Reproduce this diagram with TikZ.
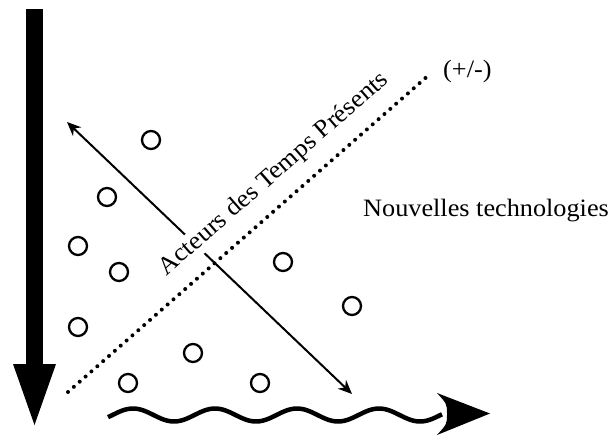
\documentclass[tikz,border=0pt]{standalone}
\usepackage{fontspec}
\setmainfont{Liberation Serif}
\usetikzlibrary{arrows.meta}
\begin{document}
\begin{tikzpicture}[x=1pt,y=-1pt,
  circ/.style={draw,line width=2.3pt,circle,minimum size=18pt,inner sep=0pt},
  lbl/.style={font=\fontsize{25}{29}\selectfont,inner sep=1pt},
  dots/.style={line width=4pt,line cap=round,dash pattern=on 0pt off 7.8pt},
  thin arrow/.style={line width=2pt,{Stealth[length=14pt,width=12pt]}-{Stealth[length=14pt,width=12pt]}}]
\useasboundingbox (0,0) rectangle (615,435);
% left big arrow
\fill (26,9) rectangle (43,365);
\fill (13,364) -- (56,364) -- (34.5,425) -- cycle;
% wavy arrow
\draw[line width=4.5pt] plot[domain=108:442,samples=120] (\x,{415-6.5*cos((\x-133)*4.39)});
\fill (437,393) -- (490,413.5) -- (437,435) .. controls (447,424) .. (447,414) .. controls (447,404) .. (437,393) -- cycle;
% dotted line
\coordinate (d1) at (68,392);
\coordinate (d2) at (430,74);
\draw[dots] (d1) -- (d2);
% double arrow
\coordinate (a1) at (67,122);
\coordinate (a2) at (352,394);
\draw[thin arrow] (a1) -- (a2);
% rotated label
\node[lbl,fill=white,rotate=41.2,anchor=base,inner sep=2pt] (act) at (278,179) {\scalebox{1.06}[1]{Acteurs des Temps Présents}};
% texts
\node[lbl,anchor=base west] (pm) at (442,78) {\scalebox{1.05}[1]{(+/-)}};
\node[lbl,anchor=base west] (nt) at (362,217) {\scalebox{1.05}[1]{Nouvelles technologies}};
% circles
\node[circ] (c1) at (151,140) {};
\node[circ] (c2) at (107,197) {};
\node[circ] (c3) at (78,246) {};
\node[circ] (c4) at (119,272) {};
\node[circ] (c5) at (283,262) {};
\node[circ] (c6) at (78,327) {};
\node[circ] (c7) at (352,306) {};
\node[circ] (c8) at (193,353) {};
\node[circ] (c9) at (128,383) {};
\node[circ] (c10) at (260,383) {};
\end{tikzpicture}
\end{document}
